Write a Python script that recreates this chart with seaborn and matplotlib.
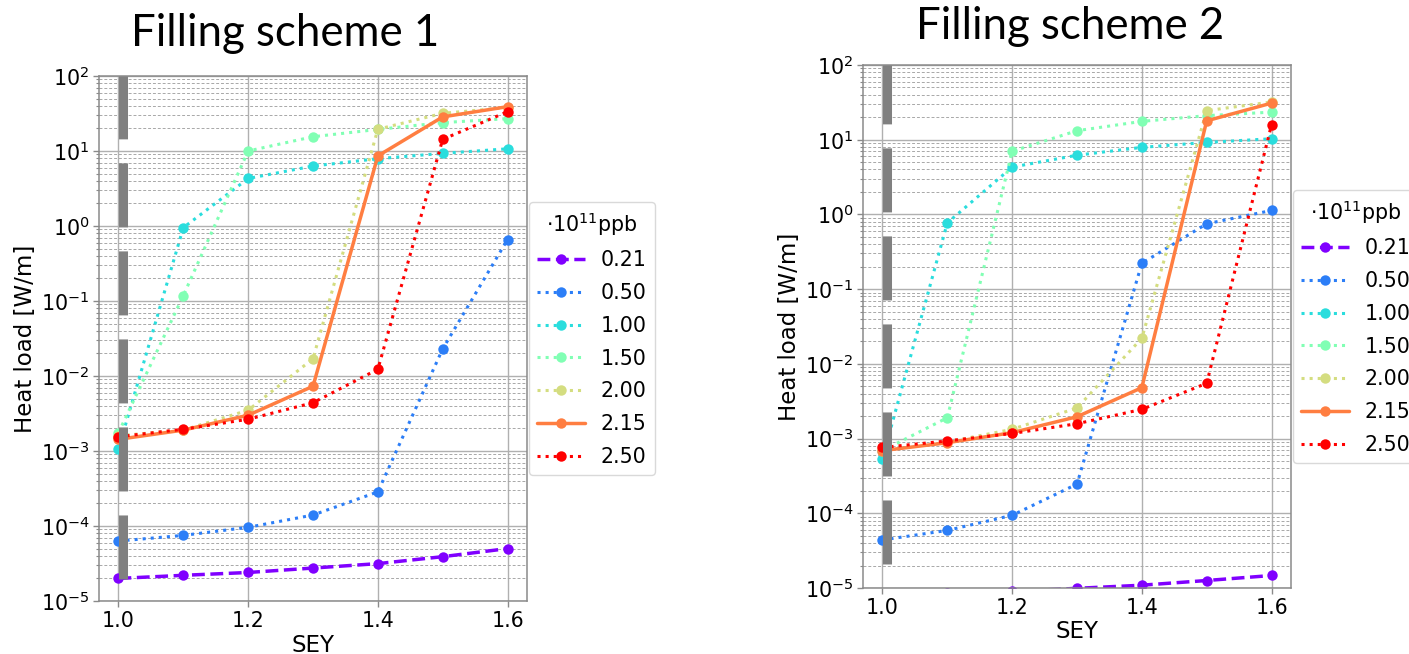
import numpy as np
import pandas as pd
import matplotlib
matplotlib.use("Agg")
import matplotlib.pyplot as plt
import seaborn as sns

# ---------------- data ----------------
sey = [1.0, 1.1, 1.2, 1.3, 1.4, 1.5, 1.6]
intensities = ["0.21", "0.50", "1.00", "1.50", "2.00", "2.15", "2.50"]

# Filling scheme 1  (heat load, W/m)
s1_021 = [2.0e-5, 2.2e-5, 2.4e-5, 2.75e-5, 3.15e-5, 3.9e-5, 5.0e-5]
s1_050 = [6.3e-5, 7.5e-5, 9.6e-5, 1.4e-4, 2.85e-4, 2.3e-2, 0.66]
s1_100 = [1.07e-3, 0.95, 4.3, 6.3, 7.9, 9.3, 10.7]
s1_150 = [1.75e-3, 0.118, 10.0, 15.5, 19.4, 23.9, 27.0]
s1_200 = [1.6e-3, 1.9e-3, 3.5e-3, 1.7e-2, 19.5, 31.8, 38.0]
s1_215 = [1.43e-3, 1.9e-3, 3.0e-3, 7.3e-3, 8.6, 28.5, 39.0]
s1_250 = [1.55e-3, 1.95e-3, 2.65e-3, 4.4e-3, 1.23e-2, 14.3, 33.4]

# Filling scheme 2  (heat load, W/m)
s2_021 = [8.0e-6, 8.5e-6, 9.0e-6, 9.9e-6, 1.09e-5, 1.26e-5, 1.47e-5]
s2_050 = [4.4e-5, 5.9e-5, 9.4e-5, 2.46e-4, 0.222, 0.75, 1.13]
s2_100 = [5.4e-4, 0.77, 4.3, 6.2, 7.9, 9.2, 10.3]
s2_150 = [6.9e-4, 1.9e-3, 7.0, 13.2, 17.6, 21.0, 23.4]
s2_200 = [7.2e-4, 9.0e-4, 1.33e-3, 2.57e-3, 2.2e-2, 24.5, 32.0]
s2_215 = [6.9e-4, 8.8e-4, 1.2e-3, 1.96e-3, 4.8e-3, 17.9, 30.9]
s2_250 = [7.6e-4, 9.3e-4, 1.17e-3, 1.58e-3, 2.46e-3, 5.5e-3, 15.9]

scheme1 = [s1_021, s1_050, s1_100, s1_150, s1_200, s1_215, s1_250]
scheme2 = [s2_021, s2_050, s2_100, s2_150, s2_200, s2_215, s2_250]

titles = ["Filling scheme 1", "Filling scheme 2"]
xticks = [1.0, 1.2, 1.4, 1.6]
yticks = [1e-5, 1e-4, 1e-3, 1e-2, 1e-1, 1e0, 1e1, 1e2]
bar_x = 1.007

# ---------------- style ----------------
sns.set_theme(style="ticks")
plt.rcParams["font.family"] = ["DejaVu Sans"]
plt.rcParams.update({"text.color": "black", "axes.labelcolor": "black",
                     "xtick.labelcolor": "black", "ytick.labelcolor": "black"})
FS = 14.8
LFS = 16.5

colors = plt.cm.rainbow(np.linspace(0, 1, len(intensities)))
linestyles = ["--", ":", ":", ":", ":", "-", ":"]
linewidths = [2.5, 2.2, 2.2, 2.2, 2.2, 2.5, 2.2]

W, H = 1409, 654
fig = plt.figure(figsize=(W / 100, H / 100), dpi=100)
fig.patch.set_facecolor("white")

# axes pixel boxes: left, top, right, bottom
boxes = [(99, 76, 527, 601), (863, 65, 1291, 588)]
title_pos = [(285, 46), (1070, 39)]
bar_offsets = [7.31, 7.09]


def make_axes(box):
    l, t, r, b = box
    return fig.add_axes([l / W, (H - b) / H, (r - l) / W, (b - t) / H])


for k, (box, data) in enumerate(zip(boxes, [scheme1, scheme2])):
    ax = make_axes(box)
    ax.set_yscale("log")
    for lab, vals, c, ls, lw in zip(intensities, data, colors, linestyles, linewidths):
        df = pd.DataFrame({"SEY": sey, "load": vals})
        sns.lineplot(data=df, x="SEY", y="load", ax=ax, color=c, linestyle=ls,
                     linewidth=lw, marker="o", markersize=7.5, markeredgewidth=0,
                     markeredgecolor=c, label=lab, errorbar=None)
    ax.axvline(bar_x, color="#808080", lw=6.5, zorder=10,
               ls=(bar_offsets[k], (7.09, 2.66)))
    ax.set_yticks(yticks)
    ax.set_ylim(1e-5, 1e2)
    ax.set_xlim(0.97, 1.63)
    ax.set_xticks(xticks)
    ax.set_xticklabels([f"{v:.1f}" for v in xticks])
    ax.grid(which="major", color="#b0b0b0", lw=1.0, ls="-")
    ax.grid(which="minor", axis="y", color="#a8a8a8", lw=0.7, ls=(0, (3, 2)))
    for sp in ax.spines.values():
        sp.set_color("#8a8a8a")
        sp.set_linewidth(1.1)
    ax.tick_params(axis="both", which="major", labelsize=FS, color="#8a8a8a",
                   length=4, width=1, pad=3)
    ax.tick_params(axis="y", which="minor", color="#8a8a8a", length=2, width=0.8)
    ax.set_xlabel("SEY", fontsize=LFS, labelpad=2)
    ax.set_ylabel("Heat load [W/m]", fontsize=LFS)
    ax.yaxis.set_label_coords(-0.145, 0.5)
    leg = ax.legend(title=r"$\cdot10^{11}$ppb", loc="center left",
                    bbox_to_anchor=(1.0, 0.5), borderaxespad=0.1,
                    fontsize=FS, title_fontsize=FS, handlelength=2.3,
                    labelspacing=0.62, frameon=True, fancybox=True)
    leg.get_frame().set_edgecolor("#d0d0d0")
    tx, ty = title_pos[k]
    fig.text(tx / W, 1 - ty / H, titles[k], ha="center", va="baseline",
             fontsize=31.5, color="black", family=["Lato", "DejaVu Sans"])

fig.savefig("out.png", dpi=100, facecolor="white")
